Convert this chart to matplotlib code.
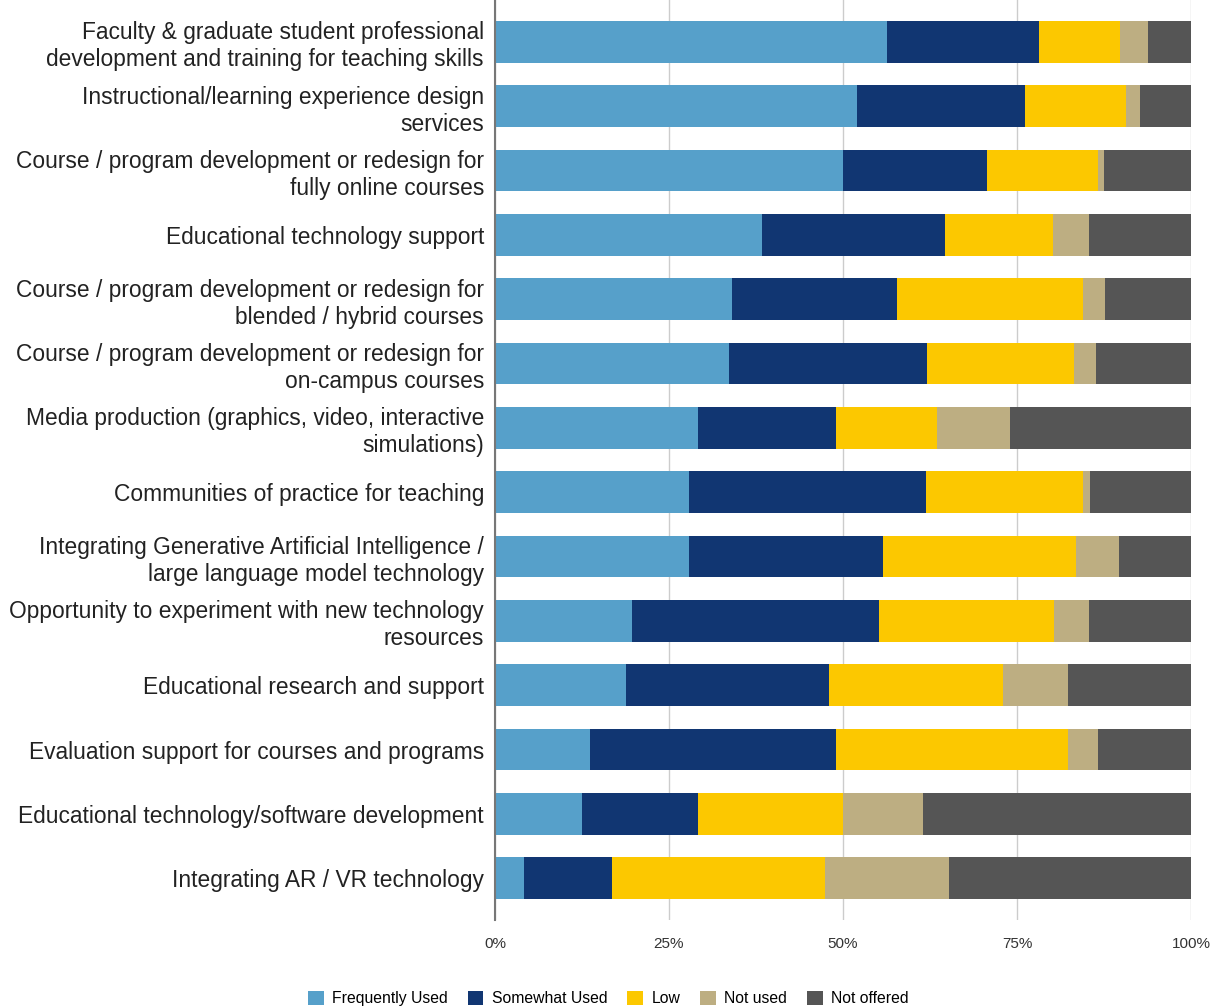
import matplotlib.pyplot as plt
import numpy as np

plt.rcParams['font.family'] = ['Liberation Sans', 'DejaVu Sans']

servicos = [
    "Faculty & graduate student professional\ndevelopment and training for teaching skills",
    "Instructional/learning experience design\nservices",
    "Course / program development or redesign for\nfully online courses",
    "Educational technology support",
    "Course / program development or redesign for\nblended / hybrid courses",
    "Course / program development or redesign for\non-campus courses",
    "Media production (graphics, video, interactive\nsimulations)",
    "Communities of practice for teaching",
    "Integrating Generative Artificial Intelligence /\nlarge language model technology",
    "Opportunity to experiment with new technology\nresources",
    "Educational research and support",
    "Evaluation support for courses and programs",
    "Educational technology/software development",
    "Integrating AR / VR technology",
]

# percentagens por categoria (cada linha soma 100)
frequente = [56.3, 52.0, 50.0, 38.4, 34.1, 33.6, 29.2, 27.9, 27.9, 19.7, 18.8, 13.6, 12.5, 4.2]
algum = [21.9, 24.2, 20.7, 26.3, 23.7, 28.5, 19.8, 34.0, 27.8, 35.5, 29.2, 35.4, 16.7, 12.6]
baixo = [11.6, 14.5, 15.9, 15.5, 26.7, 21.1, 14.5, 22.6, 27.8, 25.1, 25.0, 33.3, 20.8, 30.6]
nao_usado = [4.0, 2.0, 0.9, 5.1, 3.1, 3.2, 10.5, 1.0, 6.2, 5.0, 9.3, 4.3, 11.5, 17.8]
nao_oferecido = [6.2, 7.3, 12.5, 14.7, 12.4, 13.6, 26.0, 14.5, 10.3, 14.7, 17.7, 13.4, 38.5, 34.8]

series = [
    ("Frequently Used", frequente, "#56a0ca"),
    ("Somewhat Used", algum, "#113672"),
    ("Low", baixo, "#fcc800"),
    ("Not used", nao_usado, "#bdae82"),
    ("Not offered", nao_oferecido, "#555555"),
]

fig = plt.figure(figsize=(12.17, 10.08), dpi=100)
ax = fig.add_axes([495 / 1217, 1 - 920 / 1008, 696 / 1217, 920 / 1008])

y = np.arange(len(servicos))
esquerda = np.zeros(len(servicos))
for nome, valores, cor in series:
    ax.barh(y, valores, left=esquerda, height=0.65, color=cor, label=nome, zorder=2)
    esquerda += np.array(valores)

ax.set_xlim(0, 100)
ax.set_ylim(len(servicos) - 1 + 0.65, -0.65)
ax.set_yticks(y)
ax.set_yticklabels(servicos, fontsize=16.4, color="#222222", linespacing=1.22)
ax.set_xticks([0, 25, 50, 75, 100])
ax.set_xticklabels(["0%", "25%", "50%", "75%", "100%"], fontsize=11, color="#333333")
ax.tick_params(axis="y", length=0, pad=8)
ax.tick_params(axis="x", length=0, pad=12)
ax.xaxis.grid(True, color="#cccccc", linewidth=1, zorder=0)

for lado in ["top", "right", "bottom"]:
    ax.spines[lado].set_visible(False)
ax.spines["left"].set_color("#777777")
ax.spines["left"].set_linewidth(1.5)
ax.spines["left"].set_zorder(3)

fig.legend(loc="lower center", bbox_to_anchor=(0.5, -0.012), ncol=5, frameon=False,
           fontsize=11.3, handlelength=1.0, handleheight=1.0, columnspacing=1.25,
           handletextpad=0.55)

fig.savefig("out.png", dpi=100)
